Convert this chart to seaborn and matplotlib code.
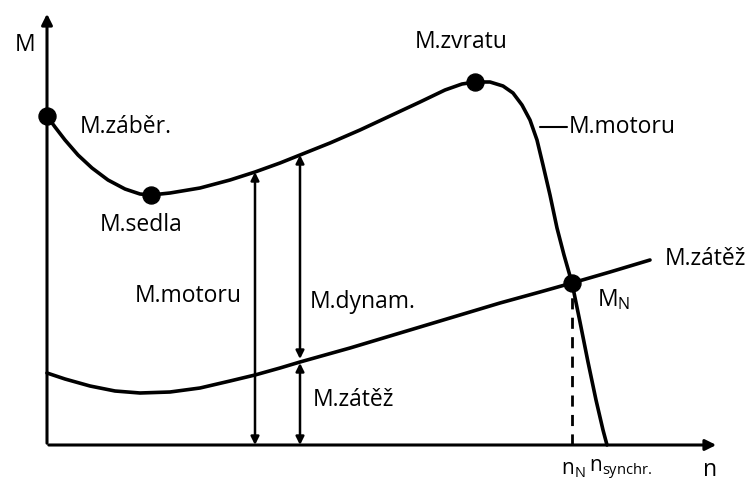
import numpy as np
import pandas as pd
import matplotlib
matplotlib.use("Agg")
import matplotlib.pyplot as plt
import seaborn as sns

# schematic torque curves (n = speed, M = torque), units are arbitrary
motor_n = [0, 8, 18, 31, 45, 61, 78, 93, 104, 123, 153, 183, 208, 233, 253, 283, 313, 343,
           373, 398, 415, 428, 443, 456, 466, 475, 483, 490, 496, 503, 510, 517, 525, 533,
           541, 549, 556, 560]
motor_M = [329, 318, 305, 290, 277, 265, 256, 251, 250, 252, 257, 265, 273, 282, 290, 302,
           315, 329, 343, 355, 361, 363, 363, 359, 352, 340, 325, 305, 280, 250, 217, 190,
           162, 123, 83, 45, 15, 0]

load_n = [0, 18, 43, 68, 93, 123, 153, 183, 208, 233, 253, 303, 353, 403, 453, 493, 525, 563, 603]
load_M = [72, 66, 59, 54, 52, 53, 57, 64, 70, 77, 83, 97, 112, 127, 142, 153, 162, 173, 185]

points = pd.DataFrame({
    "name": ["M.záběr.", "M.sedla", "M.zvratu", "M_N"],
    "n": [0, 104, 428, 525],
    "M": [329, 250, 363, 162],
})

n_N = 525
n_sync = 560
n_arrow1 = 208
n_arrow2 = 253

sns.set_style("white")
plt.rcParams["font.family"] = ["Open Sans", "DejaVu Sans"]

fig = plt.figure(figsize=(7.52, 4.95), dpi=100)
ax = fig.add_axes([0, 0, 1, 1])
ax.set_xlim(-47, 705)
ax.set_ylim(-50, 445)
ax.axis("off")

lw = 2.6
sns.lineplot(x=motor_n, y=motor_M, ax=ax, color="black", lw=lw, sort=False)
sns.lineplot(x=load_n, y=load_M, ax=ax, color="black", lw=lw, sort=False)
sns.scatterplot(data=points, x="n", y="M", ax=ax, color="black", s=150, zorder=5,
                edgecolor="black")

# axes with arrows
ax.annotate("", xy=(0, 434), xytext=(0, -1),
            arrowprops=dict(arrowstyle="-|>", color="black", lw=2.2, mutation_scale=16))
ax.annotate("", xy=(672, 0), xytext=(-1, 0),
            arrowprops=dict(arrowstyle="-|>", color="black", lw=2.2, mutation_scale=16))

# dashed n_N line
M_N = points.loc[points.name == "M_N", "M"].iloc[0]
ax.plot([n_N, n_N], [0, M_N], color="black", lw=2, ls=(0, (4, 3)))

# double arrows
def darrow(x, y0, y1):
    ax.annotate("", xy=(x, y1), xytext=(x, y0),
                arrowprops=dict(arrowstyle="<|-|>", color="black", lw=1.8,
                                mutation_scale=12, shrinkA=0, shrinkB=0))

m1 = np.interp(n_arrow1, motor_n[:22], motor_M[:22])
m2 = np.interp(n_arrow2, motor_n[:22], motor_M[:22])
l2 = np.interp(n_arrow2, load_n, load_M)
darrow(n_arrow1, 0, m1)
darrow(n_arrow2, l2 + 3, m2)
darrow(n_arrow2, 0, l2 - 1)

fs = 16.5
kw = dict(fontsize=fs, color="black", va="center")
ax.text(-32, 400, "M", ha="left", **kw)
ax.text(33, 318, "M.záběr.", ha="left", **kw)
ax.text(53, 220, "M.sedla", ha="left", **kw)
ax.text(368, 403, "M.zvratu", ha="left", **kw)
ax.plot([493, 520], [318, 318], color="black", lw=1.5)
ax.text(522, 318, "M.motoru", ha="left", **kw)
ax.text(618, 186, "M.zátěž", ha="left", **kw)
ax.text(550, 145, "M$_\\mathregular{N}$", ha="left", **kw)
ax.text(88, 149, "M.motoru", ha="left", **kw)
ax.text(263, 143, "M.dynam.", ha="left", **kw)
ax.text(266, 45, "M.zátěž", ha="left", **kw)

kb = dict(kw, fontsize=15)
ax.text(514, -25, "n$_\\mathregular{N}$", ha="left", **kb)
ax.text(542, -25, "n$_\\mathregular{synchr.}$", ha="left", **kb)
ax.text(656, -25, "n", ha="left", **kw)

fig.savefig("out.png", dpi=100)
